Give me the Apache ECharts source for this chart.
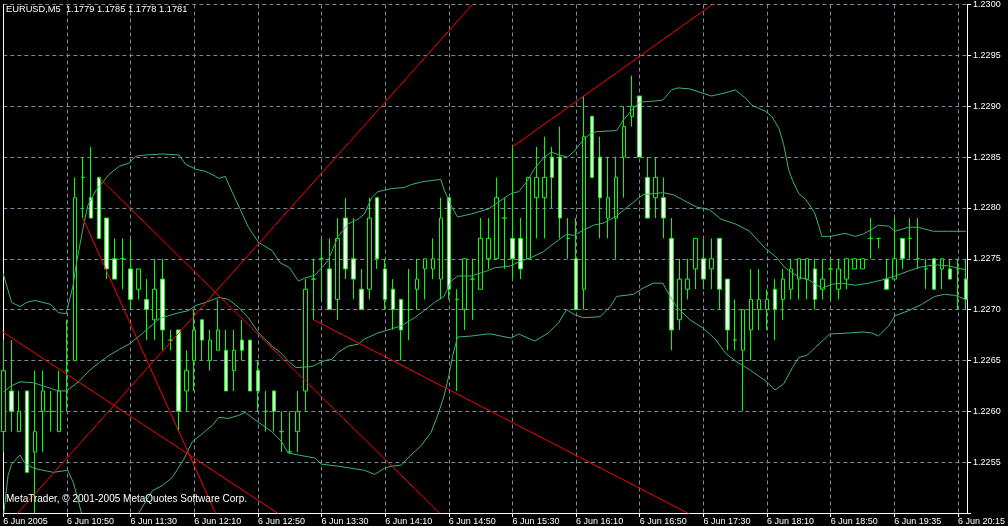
<!DOCTYPE html>
<html>
<head>
<meta charset="utf-8">
<script src="https://cdn.jsdelivr.net/npm/echarts@6/dist/echarts.min.js"></script>
<style>
html,body{margin:0;padding:0;background:#000;}
#c{width:1008px;height:526px;}
</style>
</head>
<body>
<div id="c"></div>
<script>
// ---- x-axis tick labels (bar index -> text), M5 bars, one label every 8 bars
const labelBars = [0, 8, 16, 24, 32, 40, 48, 56, 64, 72, 80, 88, 96, 104, 112, 120];
const labelTexts = ['6 Jun 2005', '6 Jun 10:50', '6 Jun 11:30', '6 Jun 12:10', '6 Jun 12:50', '6 Jun 13:30',
  '6 Jun 14:10', '6 Jun 14:50', '6 Jun 15:30', '6 Jun 16:10', '6 Jun 16:50', '6 Jun 17:30',
  '6 Jun 18:10', '6 Jun 18:50', '6 Jun 19:35', '6 Jun 20:15'];

// ---- candles (one value per bar, bar 0 .. 121)
const open = [1.2258,1.2262,1.2258,1.2262,1.2256,1.2260,1.2260,1.2258,1.2264,1.2265,
  1.2283,1.2281,1.2283,1.2279,1.2275,1.2275,1.2274,1.2272,1.2271,1.2269,
  1.2273,1.2267,1.2268,1.2262,1.2265,1.2269,1.2265,1.2266,1.2266,1.2264,
  1.2267,1.2267,1.2264,1.2260,1.2262,1.2258,1.2256,1.2258,1.2262,1.2273,
  1.2275,1.2274,1.2271,1.2279,1.2275,1.2272,1.2272,1.2281,1.2274,1.2272,
  1.2271,1.2270,1.2272,1.2274,1.2274,1.2273,1.2281,1.2271,1.2270,1.2273,
  1.2272,1.2275,1.2275,1.2279,1.2277,1.2277,1.2275,1.2281,1.2281,1.2285,
  1.2285,1.2277,1.2275,1.2272,1.2289,1.2285,1.2279,1.2279,1.2285,1.2289,
  1.2291,1.2283,1.2281,1.2281,1.2277,1.2269,1.2272,1.2274,1.2275,1.2274,
  1.2277,1.2273,1.2267,1.2266,1.2268,1.2270,1.2270,1.2272,1.2271,1.2272,
  1.2273,1.2273,1.2274,1.2272,1.2274,1.2272,1.2273,1.2274,1.2274,1.2277,
  1.2277,1.2273,1.2273,1.2277,1.2277,1.2275,1.2274,1.2275,1.2274,1.2274,
  1.2274,1.2273];
const high = [1.2267,1.2267,1.2262,1.2262,1.2264,1.2264,1.2262,1.2264,1.2269,1.2283,
  1.2285,1.2286,1.2283,1.2279,1.2277,1.2277,1.2277,1.2274,1.2273,1.2275,
  1.2275,1.2268,1.2268,1.2266,1.2270,1.2269,1.2268,1.2271,1.2268,1.2268,
  1.2269,1.2267,1.2265,1.2262,1.2262,1.2260,1.2260,1.2262,1.2273,1.2275,
  1.2277,1.2277,1.2279,1.2281,1.2279,1.2274,1.2281,1.2281,1.2275,1.2273,
  1.2271,1.2274,1.2275,1.2275,1.2277,1.2281,1.2281,1.2272,1.2275,1.2275,
  1.2279,1.2279,1.2283,1.2281,1.2286,1.2279,1.2283,1.2286,1.2287,1.2286,
  1.2288,1.2279,1.2279,1.2291,1.2289,1.2287,1.2285,1.2285,1.2290,1.2293,
  1.2291,1.2285,1.2285,1.2283,1.2279,1.2275,1.2275,1.2277,1.2277,1.2277,
  1.2277,1.2273,1.2271,1.2270,1.2274,1.2274,1.2272,1.2273,1.2274,1.2275,
  1.2275,1.2275,1.2275,1.2275,1.2275,1.2275,1.2275,1.2275,1.2275,1.2279,
  1.2277,1.2275,1.2279,1.2277,1.2279,1.2279,1.2275,1.2275,1.2275,1.2275,
  1.2275,1.2275];
const low = [1.2256,1.2258,1.2258,1.2254,1.2250,1.2256,1.2258,1.2258,1.2260,1.2265,
  1.2279,1.2279,1.2277,1.2273,1.2273,1.2272,1.2270,1.2271,1.2267,1.2267,
  1.2266,1.2266,1.2258,1.2260,1.2262,1.2265,1.2264,1.2266,1.2262,1.2262,
  1.2265,1.2262,1.2260,1.2258,1.2258,1.2256,1.2256,1.2256,1.2260,1.2269,
  1.2271,1.2270,1.2269,1.2273,1.2271,1.2270,1.2271,1.2274,1.2270,1.2268,
  1.2265,1.2267,1.2270,1.2271,1.2273,1.2271,1.2271,1.2262,1.2268,1.2269,
  1.2272,1.2274,1.2275,1.2274,1.2273,1.2273,1.2275,1.2277,1.2277,1.2280,
  1.2277,1.2275,1.2270,1.2270,1.2283,1.2277,1.2277,1.2275,1.2281,1.2288,
  1.2285,1.2279,1.2279,1.2277,1.2266,1.2268,1.2271,1.2272,1.2272,1.2272,
  1.2270,1.2266,1.2266,1.2260,1.2265,1.2268,1.2268,1.2267,1.2269,1.2271,
  1.2271,1.2271,1.2270,1.2271,1.2271,1.2271,1.2272,1.2274,1.2274,1.2275,
  1.2276,1.2272,1.2273,1.2274,1.2275,1.2274,1.2272,1.2272,1.2272,1.2273,
  1.2270,1.2270];
const close = [1.2264,1.2260,1.2260,1.2254,1.2258,1.2262,1.2260,1.2262,1.2264,1.2281,
  1.2283,1.2279,1.2277,1.2274,1.2273,1.2275,1.2271,1.2274,1.2270,1.2272,
  1.2268,1.2267,1.2260,1.2264,1.2268,1.2267,1.2267,1.2268,1.2262,1.2266,
  1.2266,1.2262,1.2262,1.2260,1.2260,1.2258,1.2256,1.2260,1.2272,1.2273,
  1.2275,1.2270,1.2277,1.2274,1.2273,1.2270,1.2279,1.2275,1.2271,1.2270,
  1.2268,1.2270,1.2273,1.2275,1.2275,1.2279,1.2272,1.2271,1.2275,1.2273,
  1.2277,1.2277,1.2281,1.2279,1.2275,1.2274,1.2283,1.2283,1.2283,1.2283,
  1.2279,1.2277,1.2270,1.2287,1.2283,1.2281,1.2281,1.2283,1.2288,1.2290,
  1.2285,1.2279,1.2283,1.2279,1.2268,1.2273,1.2273,1.2277,1.2273,1.2275,
  1.2272,1.2268,1.2267,1.2270,1.2271,1.2271,1.2271,1.2270,1.2273,1.2274,
  1.2275,1.2275,1.2271,1.2273,1.2274,1.2274,1.2275,1.2275,1.2275,1.2277,
  1.2277,1.2272,1.2275,1.2275,1.2277,1.2275,1.2274,1.2272,1.2275,1.2273,
  1.2274,1.2271];

// ---- Bollinger bands: [bar, price]
const bbUpper = [[0,1.22735],[1.05,1.22707],[2.1,1.22703],[2.9,1.22707],[4,1.22709],[5,1.22707],[6,1.22705],[6.9,1.22697],[7.9,1.22696],[8.75,1.22723],[9.2,1.22746],[10,1.22779],[10.6,1.22802],[11.7,1.22818],[12.5,1.22825],[13.3,1.22833],[14.6,1.22841],[15.8,1.22844],[16.7,1.22851],[17.9,1.22852],[20,1.22853],[22.1,1.22852],[22.9,1.22843],[24.2,1.22838],[25.4,1.22836],[26.7,1.22831],[27.1,1.22829],[27.9,1.22831],[28.8,1.22815],[29.7,1.22800],[30.8,1.22781],[32.1,1.22766],[33.8,1.22758],[34.8,1.22746],[36,1.22741],[37.1,1.22728],[37.9,1.22731],[39.2,1.22734],[40,1.22741],[40.8,1.22748],[42.1,1.22772],[43.3,1.22784],[44.6,1.22789],[45.4,1.22794],[46.3,1.22810],[47.1,1.22816],[48.8,1.22819],[50.4,1.22820],[51.3,1.22823],[52.9,1.22826],[55,1.22828],[55.4,1.22818],[56.3,1.22802],[57.1,1.22791],[58.8,1.22794],[61,1.22799],[63.8,1.22814],[64.8,1.22816],[65.9,1.22827],[66.8,1.22839],[67.9,1.22849],[68.9,1.22855],[69.9,1.22852],[70.9,1.22850],[71.7,1.22855],[72.9,1.22867],[73.8,1.22873],[74.6,1.22875],[77.1,1.22876],[77.9,1.22886],[79.2,1.22898],[80,1.22904],[81.7,1.22905],[82.9,1.22906],[84,1.22916],[84.8,1.22918],[86.3,1.22917],[87.8,1.22913],[89,1.22910],[90.7,1.22913],[92,1.22916],[93.3,1.22908],[94.1,1.22901],[95.8,1.22895],[96.6,1.22890],[97.5,1.22878],[98.1,1.22862],[98.7,1.22838],[99.2,1.22827],[100,1.22814],[100.9,1.22808],[102,1.22795],[102.9,1.22772],[104,1.22772],[105.8,1.22775],[107.1,1.22772],[108,1.22774],[109,1.22778],[110,1.22783],[111.3,1.22782],[112.1,1.22777],[113.8,1.22781],[115,1.22781],[116.9,1.22777],[118.8,1.22777],[121,1.22777]];
const bbMiddle = [[0,1.22619],[1,1.22625],[2.1,1.22629],[3.8,1.22628],[5,1.22625],[5.8,1.22623],[6.9,1.22620],[7.9,1.22620],[8.3,1.22622],[9.6,1.22630],[10.8,1.22640],[12.1,1.22648],[13.3,1.22655],[14.6,1.22661],[15.8,1.22666],[17.1,1.22674],[18.3,1.22682],[19.6,1.22691],[20.8,1.22694],[22.1,1.22697],[23.3,1.22699],[24.2,1.22704],[25.4,1.22707],[27.1,1.22712],[28.3,1.22710],[29.6,1.22702],[30.8,1.22692],[32.1,1.22677],[33.8,1.22664],[34.8,1.22658],[36,1.22648],[36.8,1.22643],[38.8,1.22644],[40.4,1.22650],[41.3,1.22651],[42.1,1.22658],[43.3,1.22664],[44.6,1.22666],[45.4,1.22671],[47.1,1.22677],[48.8,1.22681],[50,1.22684],[51.7,1.22692],[52.9,1.22699],[54.2,1.22707],[55.4,1.22713],[56.3,1.22728],[57.1,1.22733],[58.8,1.22733],[60.8,1.22738],[61.7,1.22741],[63.8,1.22743],[64.8,1.22747],[66.3,1.22751],[67.9,1.22757],[69.2,1.22765],[70.8,1.22774],[71.7,1.22773],[72.9,1.22778],[74.2,1.22783],[75.4,1.22785],[77.1,1.22792],[78.3,1.22800],[79.6,1.22808],[80.4,1.22813],[81.7,1.22814],[82.9,1.22815],[84.2,1.22813],[85.4,1.22808],[87.1,1.22801],[88.8,1.22798],[90.2,1.22789],[92.1,1.22784],[93.8,1.22777],[95.8,1.22760],[97.1,1.22752],[98.3,1.22741],[100,1.22732],[101.3,1.22729],[102.1,1.22725],[102.9,1.22721],[104.2,1.22725],[105.4,1.22726],[107.1,1.22724],[108.8,1.22726],[110.4,1.22729],[112.1,1.22733],[113.8,1.22738],[115.4,1.22742],[117.1,1.22744],[118.8,1.22743],[121,1.22739]];
const bbLower = [[0,1.22495],[0.6,1.22537],[1.05,1.22548],[2.1,1.22557],[2.7,1.22549],[3.8,1.22544],[5,1.22542],[6.3,1.22540],[8.1,1.22542],[8.8,1.22530],[9.8,1.22501],[10.3,1.22485],[16.5,1.22485],[17.1,1.22501],[18.75,1.22522],[20,1.22527],[21.25,1.22535],[22.7,1.22553],[23.75,1.22570],[25,1.22578],[26.25,1.22586],[27.1,1.22594],[28.3,1.22593],[29.6,1.22596],[30.4,1.22599],[32.1,1.22589],[33.75,1.22580],[35,1.22570],[35.8,1.22559],[37.1,1.22557],[39.2,1.22554],[40,1.22548],[42.1,1.22546],[43.75,1.22544],[45.4,1.22542],[46.7,1.22538],[47.9,1.22544],[48.75,1.22546],[50,1.22547],[51.25,1.22557],[52.5,1.22566],[53.75,1.22579],[54.6,1.22596],[55.4,1.22615],[56,1.22635],[56.5,1.22655],[57.1,1.22673],[58.8,1.22674],[60.8,1.22676],[61.3,1.22676],[63.8,1.22672],[64.8,1.22676],[66.8,1.22669],[68.5,1.22677],[69.8,1.22687],[70.8,1.22700],[71.8,1.22695],[72.9,1.22692],[75,1.22693],[76.3,1.22703],[77.1,1.22713],[79.2,1.22715],[80.4,1.22721],[81.7,1.22726],[82.9,1.22726],[83.8,1.22713],[84.6,1.22703],[86.3,1.22690],[87.9,1.22682],[88.8,1.22676],[89.6,1.22670],[90.8,1.22657],[92.1,1.22649],[93.8,1.22641],[95.8,1.22630],[97,1.22621],[98.1,1.22627],[99.2,1.22643],[100,1.22653],[101,1.22655],[102.1,1.22663],[103.9,1.22676],[106.3,1.22677],[108,1.22678],[109.2,1.22677],[110,1.22674],[111.3,1.22684],[112.1,1.22694],[113.8,1.22699],[115.4,1.22705],[117.1,1.22713],[118.3,1.22715],[119.6,1.22714],[121,1.22710]];

// ---- trend lines: two anchor points each [bar, price]
const trendLines = [
  [[-2, 1.22688], [36, 1.22492]],
  [[0, 1.22484], [60, 1.23009]],
  [[12, 1.2283], [56, 1.22491]],
  [[10, 1.2279], [28, 1.22477]],
  [[39, 1.2269], [87, 1.22496]],
  [[64, 1.2286], [92, 1.23016]]
];

const titleText = 'EURUSD,M5  1.1779 1.1785 1.1778 1.1781';
const footerText = 'MetaTrader, \u00A9 2001-2005 MetaQuotes Software Corp.';

const FONT = '"Liberation Sans", Arial, sans-serif';
const candleData = open.map((o, i) => [i, o, close[i], low[i], high[i]]);

const chart = echarts.init(document.getElementById('c'), null, {renderer: 'canvas', width: 1008, height: 526});

const series = [
  {
    type: 'candlestick',
    data: candleData,
    encode: {x: 0, y: [1, 2, 3, 4]},
    barWidth: 4,
    itemStyle: {color: '#000000', color0: '#ffffff', borderColor: '#00ff00', borderColor0: '#00ff00', borderWidth: 1},
    z: 2
  }
];
[bbUpper, bbMiddle, bbLower].forEach(d => series.push({
  type: 'line', data: d, symbol: 'none', showSymbol: false, clip: true,
  lineStyle: {color: '#3cb371', width: 1}, z: 3
}));
trendLines.forEach(d => series.push({
  type: 'line', data: d, symbol: 'none', showSymbol: false, clip: true,
  lineStyle: {color: '#ff0000', width: 1}, z: 4
}));

const gridDash = {color: '#778899', width: 1, type: [4, 3]};

chart.setOption({
  backgroundColor: '#000000',
  animation: false,
  grid: {left: 3.3, top: 3.67, width: 969.2, height: 510, containLabel: false},
  xAxis: {
    type: 'value', min: 0, max: 121.15, interval: 4,
    axisLine: {show: true, onZero: false, lineStyle: {color: '#ffffff', width: 1}},
    axisTick: {show: true, length: 4, customValues: labelBars, lineStyle: {color: '#ffffff'}},
    axisLabel: {
      show: true, customValues: labelBars, color: '#ffffff', fontSize: 9, fontFamily: FONT,
      align: 'left', margin: 4,
      formatter: v => { const k = labelBars.indexOf(Math.round(v)); return (k >= 0 && Math.abs(v - labelBars[k]) < 0.01) ? labelTexts[k] : ''; }
    },
    splitLine: {show: true, lineStyle: gridDash}
  },
  yAxis: [
    {
      type: 'value', position: 'right', min: 1.2250, max: 1.2300, interval: 0.0005,
      axisLine: {show: true, onZero: false, lineStyle: {color: '#ffffff', width: 1}},
      axisTick: {show: true, length: 4, lineStyle: {color: '#ffffff'}},
      axisLabel: {color: '#ffffff', fontSize: 9, fontFamily: FONT, margin: 6,
        formatter: v => v < 1.22505 ? '' : v.toFixed(4)},
      splitLine: {show: true, lineStyle: gridDash}
    },
    {
      type: 'value', position: 'left', min: 1.2250, max: 1.2300,
      axisLine: {show: true, onZero: false, lineStyle: {color: '#ffffff', width: 1}},
      axisTick: {show: false}, axisLabel: {show: false}, splitLine: {show: false}
    }
  ],
  graphic: [
    {type: 'text', left: 6, top: 5, z: 10,
      style: {text: titleText, fill: '#ffffff', fontSize: 9.3, fontFamily: FONT}},
    {type: 'text', left: 6, top: 494, z: 10,
      style: {text: footerText, fill: '#ffffff', fontSize: 10, fontFamily: FONT}}
  ],
  series: series
});
</script>
</body>
</html>
